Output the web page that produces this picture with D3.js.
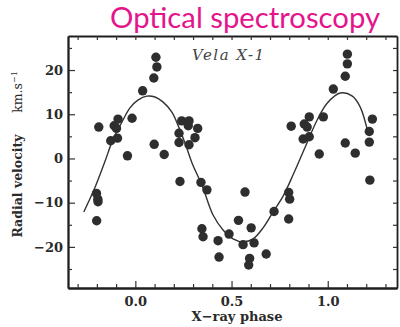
<!DOCTYPE html>
<html>
<head>
<meta charset="utf-8">
<title>Vela X-1 radial velocity</title>
<script src="https://cdn.jsdelivr.net/npm/d3@7"></script>
<style>
body{
    margin:0;
    background:#fff;
}
.tick text{
    font-family:"DejaVu Serif", serif;
    font-weight:bold;
    font-size:13px;
    fill:#2a2a2a;
}
</style>
</head>
<body>
<svg id="chart" width="400" height="327"></svg>
<script>
var phase = [
  -0.202, -0.195, -0.194, -0.201, -0.190, -0.128, -0.110, -0.090, -0.098, -0.093,
  -0.041, -0.017, 0.038, 0.107, 0.112, 0.096, 0.098, 0.150, 0.227, 0.227,
  0.241, 0.279, 0.275, 0.324, 0.310, 0.279, 0.232, 0.341, 0.372,
  0.346, 0.352, 0.430, 0.435, 0.487, 0.536, 0.560, 0.570, 0.602, 0.617,
  0.594, 0.589, 0.680, 0.721, 0.797, 0.802, 0.797,
  0.810, 0.872, 0.878, 0.904, 0.893, 0.904, 0.956, 0.977, 1.029, 1.102,
  1.102, 1.091, 1.091, 1.143, 1.216, 1.216, 1.232, 1.219
];
var velocity = [
  -7.9, -9.2, -9.8, -14.1, 7.1, 4.0, 7.4, 8.9, 6.8, 4.6,
  0.6, 9.1, 15.3, 22.9, 20.7, 18.2, 3.2, 0.9, 5.7, 3.6,
  8.5, 8.5, 7.4, 6.8, 4.7, 3.1, -5.2, -5.4, -7.1,
  -15.9, -17.7, -18.6, -22.3, -17.1, -14.0, -19.5, -7.6, -15.7, -19.1,
  -22.6, -24.1, -21.6, -12.0, -7.7, -9.2, -13.7,
  7.3, 4.4, 7.8, 9.4, 7.1, 4.9, 1.0, 9.4, 15.7, 23.6,
  21.4, 18.6, 3.5, 1.2, 6.1, 3.7, 8.9, -4.9
];

// fitted curve as drawn in the figure
var fitPhase = [
  -0.268, -0.211, -0.159, -0.117, -0.070, -0.029, 0.013, 0.060, 0.102, 0.143,
  0.190, 0.221, 0.258, 0.299, 0.346, 0.404, 0.456, 0.508, 0.560, 0.612,
  0.664, 0.716, 0.768, 0.820, 0.883, 0.945, 0.997, 1.065, 1.128, 1.169, 1.206
];
var fitVelocity = [
  -12.1, -6.7, -0.8, 4.2, 8.2, 11.4, 13.2, 14.1, 13.9, 12.8,
  10.5, 7.6, 3.5, -1.5, -6.0, -12.8, -16.2, -18.2, -18.9, -18.2,
  -15.7, -12.1, -8.5, -3.7, 2.6, 8.7, 12.5, 14.8, 14.1, 11.6, 6.4
];

var xMajor = [0, 0.5, 1.0];
var xMinor = [-0.3, -0.2, -0.1, 0.1, 0.2, 0.3, 0.4, 0.6, 0.7, 0.8, 0.9, 1.1, 1.2, 1.3];
var yMajor = [-20, -10, 0, 10, 20];
var yMinor = [-25, -15, -5, 5, 15, 25];

var plotL = 68, plotR = 397, plotT = 36, plotB = 288;

var svg = d3.select("#chart");

var x = d3.scaleLinear().domain([-0.35, 1.36]).range([plotL, plotR]);
var y = d3.scaleLinear().domain([-29.3, 27.7]).range([plotB, plotT]);

// title
svg.append("text")
    .attr("x", 110)
    .attr("y", 28)
    .attr("textLength", 270)
    .attr("lengthAdjust", "spacingAndGlyphs")
    .style("font-family", "Lato, 'Open Sans', sans-serif")
    .style("font-size", "28px")
    .style("fill", "#e4148c")
    .text("Optical spectroscopy");

// axes: labelled ticks, then short minor ticks
svg.append("g")
    .attr("transform", "translate(" + plotL + ",0)")
    .call(d3.axisLeft(y).tickValues(yMajor).tickSize(-7).tickSizeOuter(0).tickPadding(5));
svg.append("g")
    .attr("transform", "translate(" + plotL + ",0)")
    .call(d3.axisLeft(y).tickValues(yMinor).tickSize(-4).tickSizeOuter(0).tickFormat(""));

svg.append("g")
    .attr("transform", "translate(0," + plotB + ")")
    .call(d3.axisBottom(x).tickValues(xMajor).tickSize(-7).tickSizeOuter(0).tickPadding(9)
        .tickFormat(d3.format(".1f")));
svg.append("g")
    .attr("transform", "translate(0," + plotB + ")")
    .call(d3.axisBottom(x).tickValues(xMinor).tickSize(-4).tickSizeOuter(0).tickFormat(""));

svg.append("g")
    .attr("transform", "translate(0," + plotT + ")")
    .call(d3.axisTop(x).tickValues(xMajor.concat(xMinor)).tickSize(-4).tickSizeOuter(0).tickFormat(""));

svg.append("g")
    .attr("transform", "translate(" + plotR + ",0)")
    .call(d3.axisRight(y).tickValues(yMajor.concat(yMinor)).tickSize(-4).tickSizeOuter(0).tickFormat(""));

svg.selectAll(".domain").attr("stroke", "#1e1e1e").attr("stroke-width", 1.8);
svg.selectAll(".tick line").attr("stroke", "#333").attr("stroke-width", 1.2);

// fitted curve
var line = d3.line()
    .x(function(d, i) { return x(fitPhase[i]); })
    .y(function(d, i) { return y(fitVelocity[i]); })
    .curve(d3.curveCatmullRom);

svg.append("path")
    .datum(fitPhase)
    .attr("d", line)
    .attr("fill", "none")
    .attr("stroke", "#333")
    .attr("stroke-width", 1.4);

// observations
svg.append("g").selectAll("circle")
    .data(phase)
    .enter().append("circle")
    .attr("cx", function(d) { return x(d); })
    .attr("cy", function(d, i) { return y(velocity[i]); })
    .attr("r", 4.7)
    .attr("fill", "#2e2e2e");

// handwritten source name
svg.append("text")
    .attr("x", 192)
    .attr("y", 60)
    .style("font-family", "'DejaVu Serif', serif")
    .style("font-style", "italic")
    .style("font-size", "15px")
    .style("letter-spacing", "1.5px")
    .style("fill", "#444")
    .text("Vela  X-1");

// axis titles
svg.append("text")
    .attr("x", 237)
    .attr("y", 321)
    .attr("text-anchor", "middle")
    .style("font-family", "'DejaVu Serif', serif")
    .style("font-weight", "bold")
    .style("font-size", "13px")
    .style("fill", "#2a2a2a")
    .text("X\u2212ray phase");

svg.append("text")
    .attr("transform", "translate(22,186) rotate(-90)")
    .attr("text-anchor", "middle")
    .style("font-family", "'DejaVu Serif', serif")
    .style("font-weight", "bold")
    .style("font-size", "12.5px")
    .style("fill", "#2a2a2a")
    .text("Radial velocity");

var unit = svg.append("text")
    .attr("transform", "translate(22,92) rotate(-90)")
    .attr("text-anchor", "middle")
    .style("font-family", "'DejaVu Serif', serif")
    .style("font-size", "12.5px")
    .style("fill", "#2a2a2a");
unit.append("tspan").text("km.s");
unit.append("tspan").attr("dy", -5).style("font-size", "8px").text("\u22121");
</script>
</body>
</html>
